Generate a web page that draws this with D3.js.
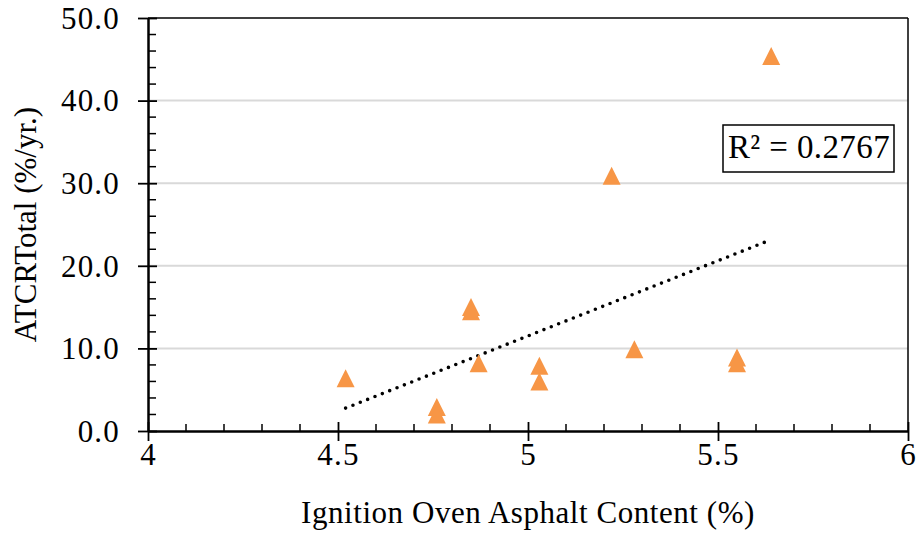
<!DOCTYPE html>
<html>
<head>
<meta charset="utf-8">
<script src="https://cdn.jsdelivr.net/npm/d3@7"></script>
<style>
  html, body { margin: 0; padding: 0; background: #fff; }
  svg { display: block; font-family: "Liberation Serif", "Times New Roman", serif; }
</style>
</head>
<body>
<svg id="chart" width="919" height="533"></svg>
<script>
// Asphalt content (%) vs. ATCR total (%/yr.)
const asphaltContent = [4.52, 4.76, 4.76, 4.85, 4.85, 4.87, 5.03, 5.03, 5.22, 5.28, 5.55, 5.55, 5.64];
const atcrTotal      = [6.4, 2.9, 2.0, 15.0, 14.5, 8.2, 7.9, 6.0, 30.9, 9.9, 8.9, 8.2, 45.4];
const xTicks = [4, 4.5, 5, 5.5, 6];
const yTicks = [0, 10, 20, 30, 40, 50];
const rSquaredLabel = "R² = 0.2767";
const xTitle = "Ignition Oven Asphalt Content (%)";
const yTitle = "ATCRTotal (%/yr.)";

const svg = d3.select("#chart");
const margin = { left: 148, top: 18, right: 11, bottom: 102 };
const W = 919 - margin.left - margin.right;
const H = 533 - margin.top - margin.bottom;

const x = d3.scaleLinear().domain([4, 6]).range([0, W]);
const y = d3.scaleLinear().domain([0, 50]).range([H, 0]);

const g = svg.append("g").attr("transform", `translate(${margin.left},${margin.top})`);

// horizontal gridlines
g.append("g").selectAll("line").data(yTicks.filter(v => v > 0 && v < 50)).join("line")
  .attr("x1", 0).attr("x2", W)
  .attr("y1", d => y(d)).attr("y2", d => y(d))
  .attr("stroke", "#d9d9d9").attr("stroke-width", 2);

// top and right border
g.append("line").attr("x1", 0).attr("x2", W).attr("y1", 0).attr("y2", 0)
  .attr("stroke", "#000").attr("stroke-width", 1.5);
g.append("line").attr("x1", W).attr("x2", W).attr("y1", 0).attr("y2", H)
  .attr("stroke", "#000").attr("stroke-width", 1.5);

// minor ticks (inside)
const yMinor = d3.range(0, 50.001, 2).filter(v => v % 10 !== 0);
g.append("g").selectAll("line").data(yMinor).join("line")
  .attr("x1", 0).attr("x2", 8)
  .attr("y1", d => y(d)).attr("y2", d => y(d))
  .attr("stroke", "#000").attr("stroke-width", 1.5);
const xMinor = d3.range(0, 21).map(i => 4 + i * 0.1).filter((v, i) => i % 5 !== 0);
g.append("g").selectAll("line").data(xMinor).join("line")
  .attr("x1", d => x(d)).attr("x2", d => x(d))
  .attr("y1", H).attr("y2", H - 7)
  .attr("stroke", "#000").attr("stroke-width", 1.5);

// y axis (major ticks crossing the axis)
const yAxis = d3.axisLeft(y).tickValues(yTicks).tickFormat(d3.format(".1f"))
  .tickSizeInner(10).tickSizeOuter(0).tickPadding(18);
const ya = g.append("g").call(yAxis).attr("font-family", null);
ya.select(".domain").attr("stroke-width", 2.5);
ya.selectAll(".tick line").attr("x2", -10).attr("x1", 9).attr("stroke-width", 1.8);
ya.selectAll(".tick text").attr("font-size", 31).attr("fill", "#000")
  .attr("letter-spacing", 1.2)
  .attr("dy", "0.33em").attr("x", -28);

// x axis
const xAxis = d3.axisBottom(x).tickValues(xTicks).tickFormat(d3.format("~g"))
  .tickSizeInner(10).tickSizeOuter(0).tickPadding(12);
const xa = g.append("g").attr("transform", `translate(0,${H})`).call(xAxis).attr("font-family", null);
xa.select(".domain").attr("stroke-width", 2.5);
xa.selectAll(".tick line").attr("y1", -9).attr("y2", 10).attr("stroke-width", 1.8);
xa.selectAll(".tick text").attr("font-size", 31).attr("fill", "#000")
  .attr("letter-spacing", 1.2)
  .attr("dy", "0").attr("y", 34);

// linear trendline (least squares)
const n = asphaltContent.length;
const mx = d3.mean(asphaltContent), my = d3.mean(atcrTotal);
let sxy = 0, sxx = 0;
for (let i = 0; i < n; i++) {
  sxy += (asphaltContent[i] - mx) * (atcrTotal[i] - my);
  sxx += (asphaltContent[i] - mx) ** 2;
}
const slope = sxy / sxx, intercept = my - slope * mx;
const xMin = d3.min(asphaltContent), xMax = d3.max(asphaltContent);
g.append("line")
  .attr("x1", x(xMin)).attr("y1", y(intercept + slope * xMin))
  .attr("x2", x(xMax)).attr("y2", y(intercept + slope * xMax))
  .attr("stroke", "#000").attr("stroke-width", 3.6)
  .attr("stroke-linecap", "round").attr("stroke-dasharray", "0,7.9");

// triangle markers
const tri = (cx, cy) => {
  const h = 18, w = 18;
  return `M${cx},${cy - h / 2}L${cx + w / 2},${cy + h / 2}L${cx - w / 2},${cy + h / 2}Z`;
};
g.append("g").selectAll("path").data(asphaltContent.map((v, i) => [v, atcrTotal[i]])).join("path")
  .attr("d", d => tri(x(d[0]), y(d[1])))
  .attr("fill", "#F79646");

// R² annotation
const box = g.append("g").attr("transform", `translate(${W - 185},${107})`);
box.append("rect").attr("x", 0).attr("y", 0).attr("width", 171).attr("height", 47)
  .attr("fill", "#fff").attr("stroke", "#000").attr("stroke-width", 1.5);
box.append("text").attr("x", 86).attr("y", 33).attr("text-anchor", "middle")
  .attr("font-size", 33).attr("letter-spacing", 0.4).attr("fill", "#000").text(rSquaredLabel);

// axis titles
svg.append("text").attr("x", margin.left + W / 2).attr("y", 523)
  .attr("text-anchor", "middle").attr("font-size", 31).attr("letter-spacing", 0.55)
  .attr("fill", "#000").text(xTitle);
svg.append("text")
  .attr("transform", `translate(36,${margin.top + H / 2}) rotate(-90)`)
  .attr("text-anchor", "middle").attr("font-size", 31).attr("fill", "#000").text(yTitle);
</script>
</body>
</html>
